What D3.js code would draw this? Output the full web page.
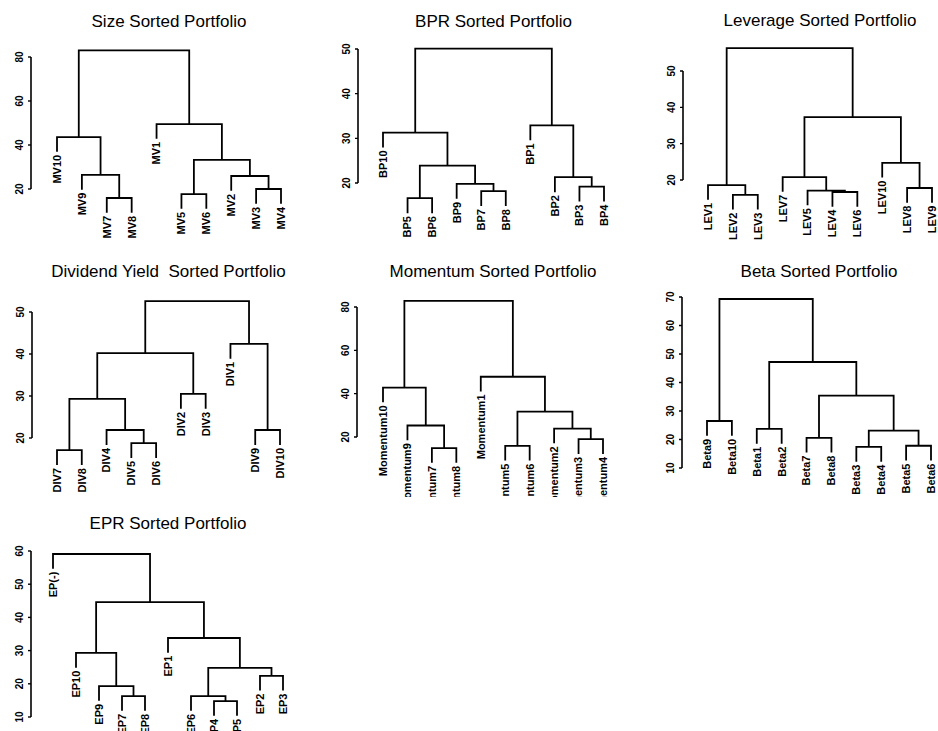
<!DOCTYPE html>
<html>
<head>
<meta charset="utf-8">
<script src="https://cdnjs.cloudflare.com/ajax/libs/d3/7.8.5/d3.min.js"></script>
<style>
  body { margin: 0; background: #fff; }
  svg { display: block; }
</style>
</head>
<body>
<div id="chart"></div>
<script>
// Dendrograms of sorted portfolios.
// Leaves are listed in plotted order. Merges follow R's hclust convention:
// [left, right, height], negative = leaf (1-based in the label list),
// positive = an earlier merge (1-based).

var sizeLabels = ["MV10", "MV9", "MV7", "MV8", "MV1", "MV5", "MV6", "MV2", "MV3", "MV4"];
var sizeMerges = [[-3, -4, 15.9], [-6, -7, 17.7], [-9, -10, 20.0], [-8, 3, 25.9], [-2, 1, 26.4],
                  [2, 4, 33.2], [-1, 5, 43.6], [-5, 6, 49.5], [7, 8, 83.0]];

var bprLabels = ["BP10", "BP5", "BP6", "BP9", "BP7", "BP8", "BP1", "BP2", "BP3", "BP4"];
var bprMerges = [[-2, -3, 16.6], [-5, -6, 18.2], [-9, -10, 19.2], [-4, 2, 19.8], [-8, 3, 21.3],
                 [1, 4, 23.9], [-1, 6, 31.3], [-7, 5, 32.9], [7, 8, 50.1]];

var levLabels = ["LEV1", "LEV2", "LEV3", "LEV7", "LEV5", "LEV4", "LEV6", "LEV10", "LEV8", "LEV9"];
var levMerges = [[-2, -3, 15.9], [-6, -7, 16.7], [-5, 2, 17.1], [-9, -10, 17.8], [-1, 1, 18.6],
                 [-4, 3, 20.8], [-8, 4, 24.7], [6, 7, 37.3], [5, 8, 56.3]];

var divLabels = ["DIV7", "DIV8", "DIV4", "DIV5", "DIV6", "DIV2", "DIV3", "DIV1", "DIV9", "DIV10"];
var divMerges = [[-1, -2, 17.1], [-4, -5, 18.8], [-3, 2, 21.9], [-9, -10, 21.9], [1, 3, 29.3],
                 [-6, -7, 30.5], [5, 6, 40.2], [-8, 4, 42.4], [7, 8, 52.6]];

var momLabels = ["Momentum10", "Momentum9", "Momentum7", "Momentum8", "Momentum1",
                 "Momentum5", "Momentum6", "Momentum2", "Momentum3", "Momentum4"];
var momMerges = [[-3, -4, 14.9], [-6, -7, 15.9], [-9, -10, 19.0], [-8, 3, 23.9], [-2, 1, 25.3],
                 [2, 4, 31.7], [-1, 5, 42.8], [-5, 6, 47.8], [7, 8, 82.8]];

var betaLabels = ["Beta9", "Beta10", "Beta1", "Beta2", "Beta7", "Beta8", "Beta3", "Beta4", "Beta5", "Beta6"];
var betaMerges = [[-7, -8, 17.4], [-9, -10, 17.8], [-5, -6, 20.6], [1, 2, 23.1], [-3, -4, 23.7],
                  [-1, -2, 26.5], [3, 4, 35.4], [5, 7, 47.2], [6, 8, 69.3]];

var eprLabels = ["EP(-)", "EP10", "EP9", "EP7", "EP8", "EP1", "EP6", "EP4", "EP5", "EP2", "EP3"];
var eprMerges = [[-8, -9, 14.8], [-4, -5, 16.3], [-7, 1, 16.3], [-3, 2, 19.3], [-10, -11, 22.4],
                 [3, 5, 24.8], [-2, 4, 29.3], [-6, 6, 33.8], [7, 8, 44.6], [-1, 9, 59.1]];

// Layout: grid cell, axis position, leaf span and two reference ticks (value, pixel) per panel
var panels = [
  { title: "Size Sorted Portfolio", labels: sizeLabels, merges: sizeMerges, row: 0, col: 0,
    axisX: 31, leafX: [57, 281], yRef: [[20, 189], [80, 57]], titleY: 27 },
  { title: "BPR Sorted Portfolio", labels: bprLabels, merges: bprMerges, row: 0, col: 1,
    axisX: 358, leafX: [383, 604], yRef: [[20, 183], [50, 49]], titleY: 27 },
  { title: "Leverage Sorted Portfolio", labels: levLabels, merges: levMerges, row: 0, col: 2,
    axisX: 683, leafX: [708, 932], yRef: [[20, 180], [50, 71]], titleY: 26 },
  { title: "Dividend Yield  Sorted Portfolio", labels: divLabels, merges: divMerges, row: 1, col: 0,
    axisX: 32, leafX: [57, 280], yRef: [[20, 438], [50, 312]], titleY: 277 },
  { title: "Momentum Sorted Portfolio", labels: momLabels, merges: momMerges, row: 1, col: 1,
    axisX: 357, leafX: [383, 603], yRef: [[20, 437], [80, 307]], titleY: 277 },
  { title: "Beta Sorted Portfolio", labels: betaLabels, merges: betaMerges, row: 1, col: 2,
    axisX: 682, leafX: [707, 931], yRef: [[10, 468], [70, 297]], titleY: 277 },
  { title: "EPR Sorted Portfolio", labels: eprLabels, merges: eprMerges, row: 2, col: 0,
    axisX: 31, leafX: [53, 283], yRef: [[10, 717], [60, 551]], titleY: 529 }
];

var width = 938, height = 731;
var cellW = width / 3;
var rowEdges = [0, 247, 497, 731];   // figure cell bounds of the scanned page
var hangFrac = 0.1;   // R plot.hclust default hang
var fontFamily = "'Liberation Sans', Arial, Helvetica, sans-serif";

var svg = d3.select("#chart").append("svg")
    .attr("width", width)
    .attr("height", height)
    .style("background", "#fff");

var defs = svg.append("defs");

panels.forEach(drawPanel);

// Functions

function drawPanel(p, i) {
  // each panel is clipped to its figure cell, like R's mfrow regions
  defs.append("clipPath")
      .attr("id", "cell" + i)
    .append("rect")
      .attr("x", p.col * cellW)
      .attr("y", rowEdges[p.row])
      .attr("width", cellW)
      .attr("height", rowEdges[p.row + 1] - rowEdges[p.row]);

  var g = svg.append("g")
      .attr("class", "panel")
      .attr("clip-path", "url(#cell" + i + ")");

  var x = d3.scaleLinear()
      .domain([0, p.labels.length - 1])
      .range(p.leafX);

  var y = d3.scaleLinear()
      .domain([p.yRef[0][0], p.yRef[1][0]])
      .range([p.yRef[0][1], p.yRef[1][1]]);

  var heights = p.merges.map(function(m) { return m[2]; });
  var hMin = d3.min(heights), hMax = d3.max(heights);
  var hang = hangFrac * (hMax - hMin);

  // build nodes: leaves get x from order, merges sit midway between children
  var nodes = [];
  var leaves = [];
  function getNode(k) {
    if (k < 0) return { leaf: true, label: p.labels[-k - 1], x: x(-k - 1) };
    return nodes[k - 1];
  }
  p.merges.forEach(function(m) {
    var l = getNode(m[0]), r = getNode(m[1]);
    [l, r].forEach(function(c) {
      if (c.leaf) { c.top = m[2] - hang; leaves.push(c); }
      else c.top = c.height;
    });
    nodes.push({ left: l, right: r, height: m[2], x: (l.x + r.x) / 2 });
  });

  // axis (R style: range extended 4% each side, line from first to last tick)
  var lo = hMin - hang, hi = hMax;
  var ext = 0.04 * (hi - lo);
  var ticks = d3.ticks(lo - ext, hi + ext, 5).filter(function(t) {
    return t >= lo - ext && t <= hi + ext;
  });

  var axis = g.append("g").attr("class", "axis");
  axis.append("line")
      .attr("x1", p.axisX).attr("x2", p.axisX)
      .attr("y1", y(ticks[0])).attr("y2", y(ticks[ticks.length - 1]))
      .style("stroke", "#000")
      .style("stroke-width", 1.6);

  axis.selectAll(".tick")
    .data(ticks)
    .enter().append("line")
      .attr("class", "tick")
      .attr("x1", p.axisX - 3).attr("x2", p.axisX)
      .attr("y1", function(d) { return y(d); })
      .attr("y2", function(d) { return y(d); })
      .style("stroke", "#000")
      .style("stroke-width", 1.4);

  axis.selectAll(".tickLabel")
    .data(ticks)
    .enter().append("text")
      .attr("class", "tickLabel")
      .attr("transform", function(d) { return "translate(" + (p.axisX - 8) + "," + y(d) + ") rotate(-90)"; })
      .attr("text-anchor", "middle")
      .style("font-family", fontFamily)
      .style("font-size", "10px")
      .style("font-weight", "bold")
      .style("fill", "#000")
      .text(function(d) { return d; });

  // branches
  g.append("g")
      .attr("class", "branches")
    .selectAll("path")
    .data(nodes)
    .enter().append("path")
      .attr("d", function(d) {
        return "M" + d.left.x + "," + y(d.left.top)
          + "V" + y(d.height)
          + "H" + d.right.x
          + "V" + y(d.right.top);
      })
      .style("fill", "none")
      .style("stroke", "#000")
      .style("stroke-width", 1.8);

  // leaf labels, hanging below the leaf ends
  g.append("g")
      .attr("class", "leafLabels")
    .selectAll("text")
    .data(leaves)
    .enter().append("text")
      .attr("transform", function(d) { return "translate(" + d.x + "," + (y(d.top) + 3) + ") rotate(-90)"; })
      .attr("dy", ".35em")
      .attr("text-anchor", "end")
      .style("font-family", fontFamily)
      .style("font-size", "11px")
      .style("font-weight", "bold")
      .style("fill", "#000")
      .text(function(d) { return d.label; });

  // title centred on the leaves
  g.append("text")
      .attr("x", (p.leafX[0] + p.leafX[1]) / 2)
      .attr("y", p.titleY)
      .attr("text-anchor", "middle")
      .style("font-family", fontFamily)
      .style("font-size", "17px")
      .style("white-space", "pre")
      .style("fill", "#000")
      .text(p.title);
}
</script>
</body>
</html>
